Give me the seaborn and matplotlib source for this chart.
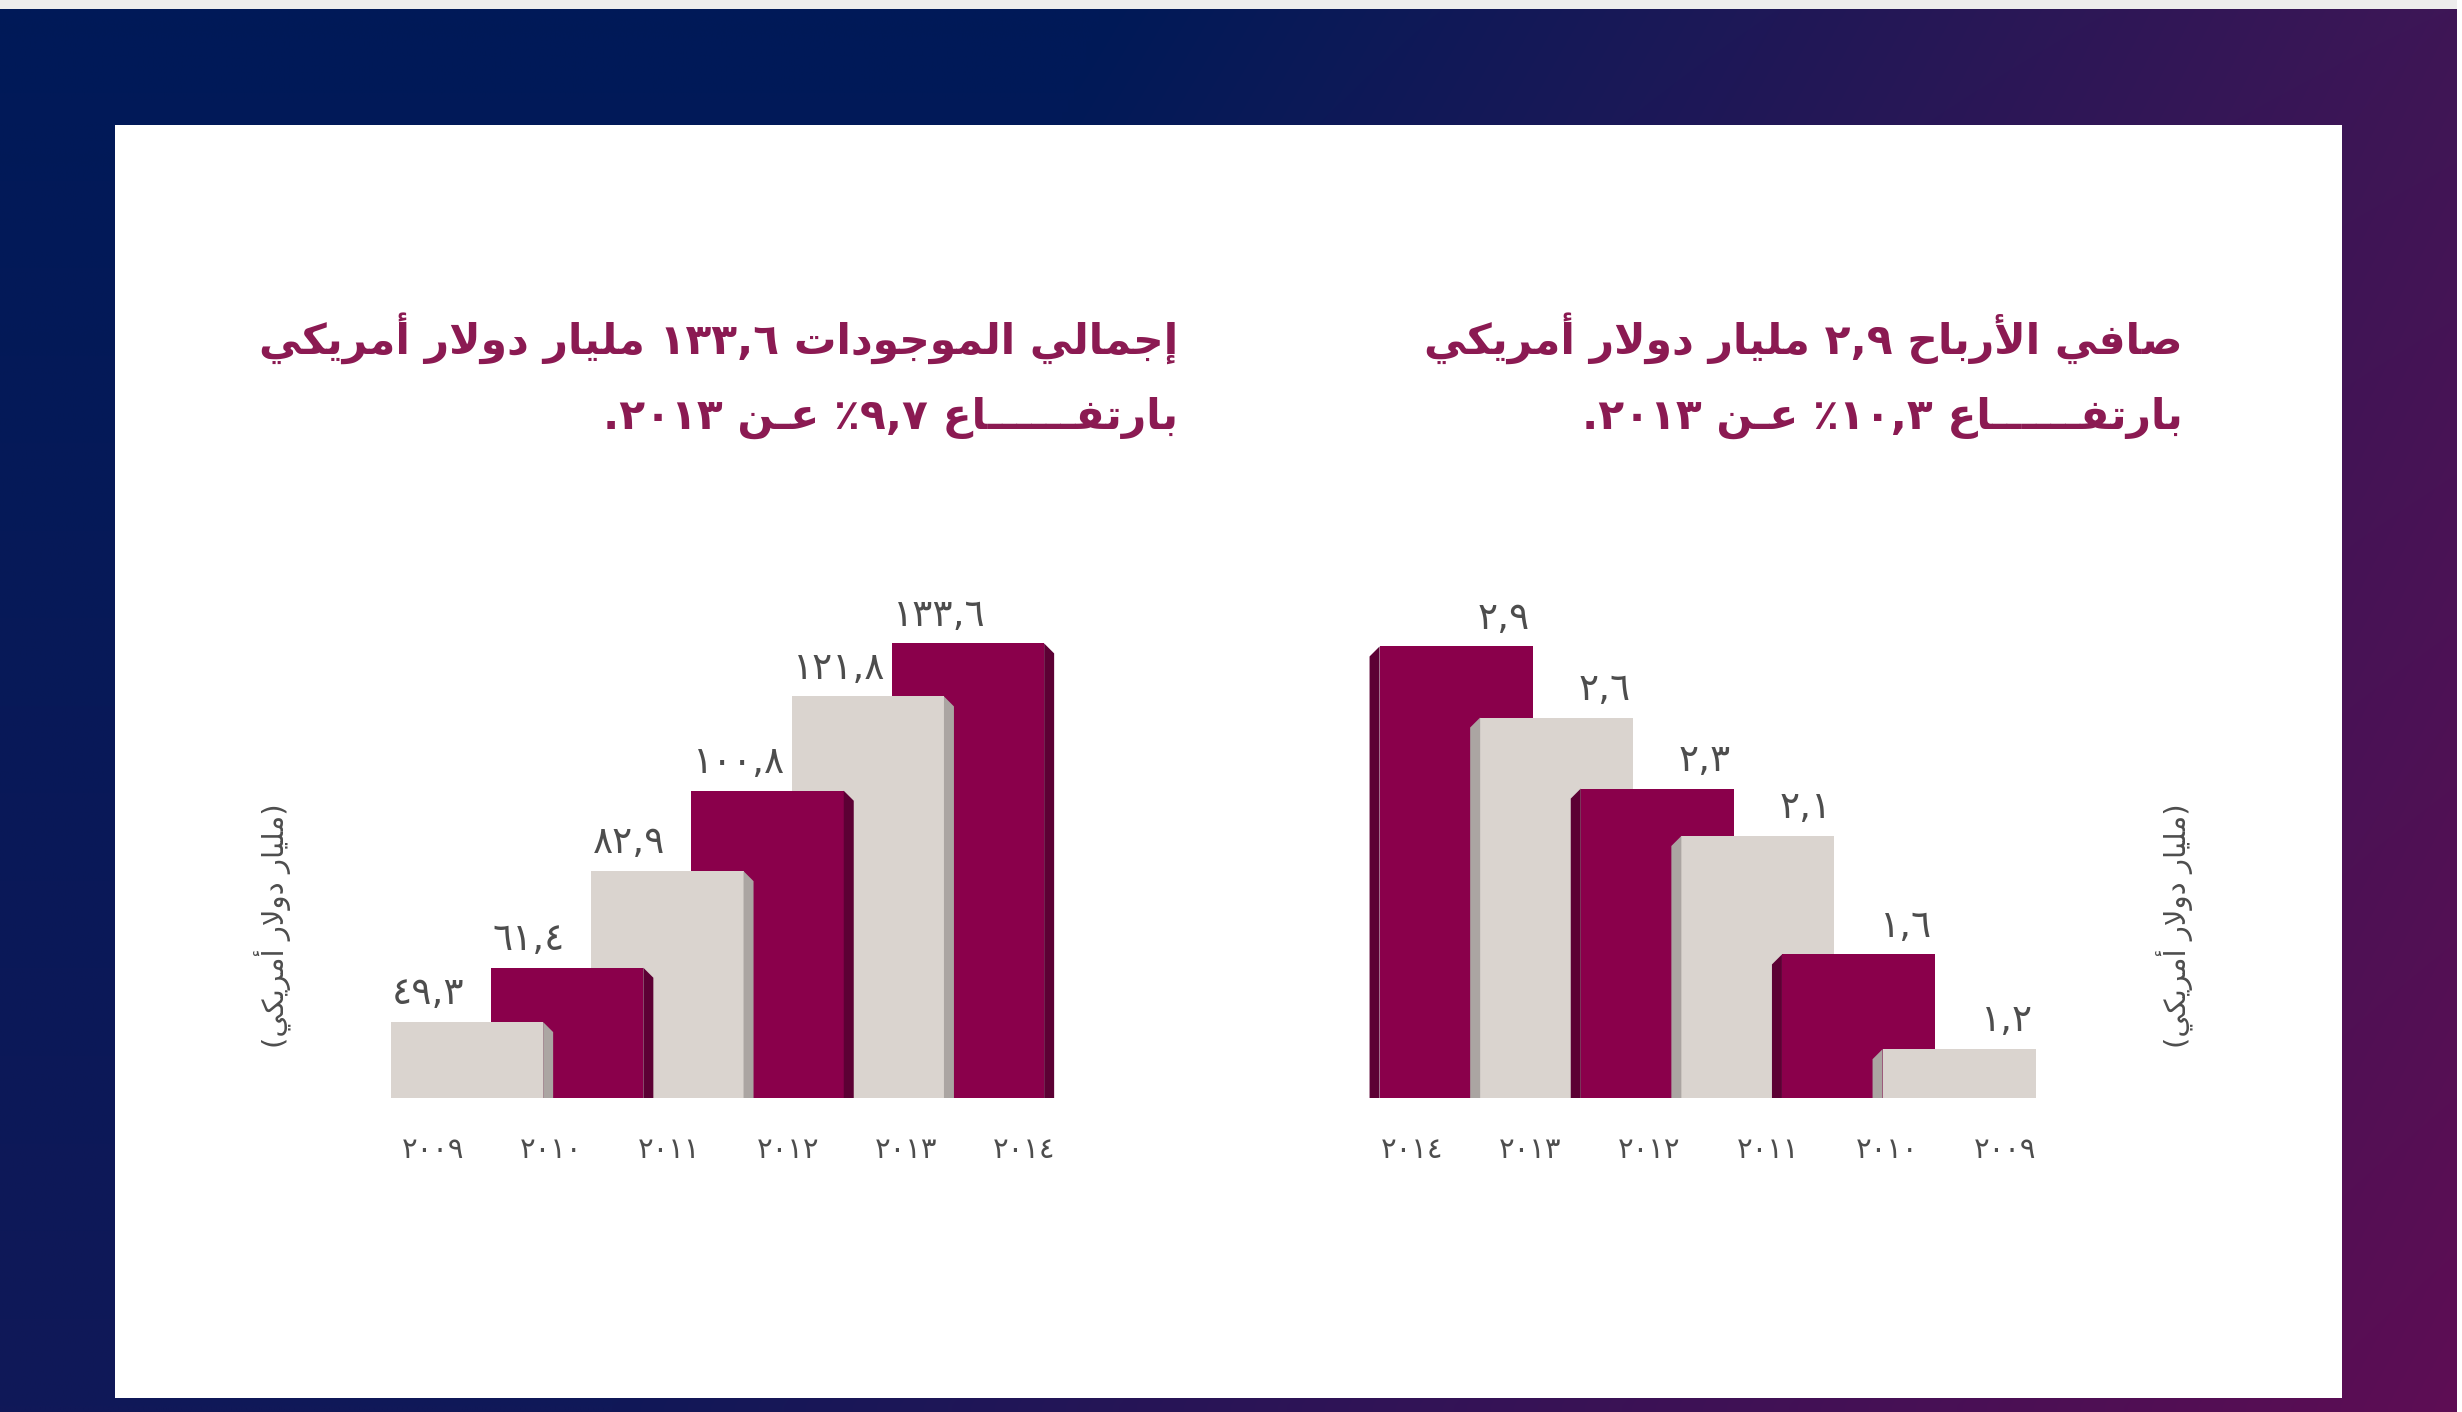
import re
import numpy as np
import matplotlib
matplotlib.use("Agg")
import matplotlib.pyplot as plt
from matplotlib.patches import Polygon, Rectangle
import seaborn as sns

# ---------------- data ----------------
years = ["2009", "2010", "2011", "2012", "2013", "2014"]
assets = [49.3, 61.4, 82.9, 100.8, 121.8, 133.6]
profits = [1.2, 1.6, 2.1, 2.3, 2.6, 2.9]
assets_title = ["إجمالي الموجودات ١٣٣,٦ مليار دولار أمريكي",
                "بارتفــــــاع ٩,٧٪ عـن ٢٠١٣."]
profits_title = ["صافي الأرباح ٢,٩ مليار دولار أمريكي",
                 "بارتفــــــاع ١٠,٣٪ عـن ٢٠١٣."]
unit_label = "(مليار دولار أمريكي)"

# ---------------- Arabic shaping / visual order ----------------
FORMS = {
    '\u0621': ('\uFE80', None, None, None),
    '\u0622': ('\uFE81', '\uFE82', None, None),
    '\u0623': ('\uFE83', '\uFE84', None, None),
    '\u0624': ('\uFE85', '\uFE86', None, None),
    '\u0625': ('\uFE87', '\uFE88', None, None),
    '\u0626': ('\uFE89', '\uFE8A', '\uFE8B', '\uFE8C'),
    '\u0627': ('\uFE8D', '\uFE8E', None, None),
    '\u0628': ('\uFE8F', '\uFE90', '\uFE91', '\uFE92'),
    '\u0629': ('\uFE93', '\uFE94', None, None),
    '\u062A': ('\uFE95', '\uFE96', '\uFE97', '\uFE98'),
    '\u062B': ('\uFE99', '\uFE9A', '\uFE9B', '\uFE9C'),
    '\u062C': ('\uFE9D', '\uFE9E', '\uFE9F', '\uFEA0'),
    '\u062D': ('\uFEA1', '\uFEA2', '\uFEA3', '\uFEA4'),
    '\u062E': ('\uFEA5', '\uFEA6', '\uFEA7', '\uFEA8'),
    '\u062F': ('\uFEA9', '\uFEAA', None, None),
    '\u0630': ('\uFEAB', '\uFEAC', None, None),
    '\u0631': ('\uFEAD', '\uFEAE', None, None),
    '\u0632': ('\uFEAF', '\uFEB0', None, None),
    '\u0633': ('\uFEB1', '\uFEB2', '\uFEB3', '\uFEB4'),
    '\u0634': ('\uFEB5', '\uFEB6', '\uFEB7', '\uFEB8'),
    '\u0635': ('\uFEB9', '\uFEBA', '\uFEBB', '\uFEBC'),
    '\u0636': ('\uFEBD', '\uFEBE', '\uFEBF', '\uFEC0'),
    '\u0637': ('\uFEC1', '\uFEC2', '\uFEC3', '\uFEC4'),
    '\u0638': ('\uFEC5', '\uFEC6', '\uFEC7', '\uFEC8'),
    '\u0639': ('\uFEC9', '\uFECA', '\uFECB', '\uFECC'),
    '\u063A': ('\uFECD', '\uFECE', '\uFECF', '\uFED0'),
    '\u0641': ('\uFED1', '\uFED2', '\uFED3', '\uFED4'),
    '\u0642': ('\uFED5', '\uFED6', '\uFED7', '\uFED8'),
    '\u0643': ('\uFED9', '\uFEDA', '\uFEDB', '\uFEDC'),
    '\u0644': ('\uFEDD', '\uFEDE', '\uFEDF', '\uFEE0'),
    '\u0645': ('\uFEE1', '\uFEE2', '\uFEE3', '\uFEE4'),
    '\u0646': ('\uFEE5', '\uFEE6', '\uFEE7', '\uFEE8'),
    '\u0647': ('\uFEE9', '\uFEEA', '\uFEEB', '\uFEEC'),
    '\u0648': ('\uFEED', '\uFEEE', None, None),
    '\u0649': ('\uFEEF', '\uFEF0', None, None),
    '\u064A': ('\uFEF1', '\uFEF2', '\uFEF3', '\uFEF4'),
}
LAM_ALEF = {'\u0622': ('\uFEF5', '\uFEF6'), '\u0623': ('\uFEF7', '\uFEF8'),
            '\u0625': ('\uFEF9', '\uFEFA'), '\u0627': ('\uFEFB', '\uFEFC')}


def _jt(c):
    if c == '\u0640':
        return 'D'
    f = FORMS.get(c)
    if f is None or f[1] is None:
        return 'U'
    return 'D' if f[2] else 'R'


def shape(s):
    out, n, i = [], len(s), 0
    while i < n:
        c = s[i]
        jp = i > 0 and _jt(s[i - 1]) == 'D'
        if c == '\u0644' and i + 1 < n and s[i + 1] in LAM_ALEF:
            iso, fin = LAM_ALEF[s[i + 1]]
            out.append(fin if jp else iso)
            i += 2
            continue
        if c not in FORMS:
            out.append(c)
            i += 1
            continue
        t = _jt(c)
        nxt = s[i + 1] if i + 1 < n else None
        jn = t == 'D' and nxt is not None and _jt(nxt) in ('D', 'R')
        jp = jp and t in ('D', 'R')
        iso, fin, ini, med = FORMS[c]
        out.append(med if (jp and jn) else fin if jp else ini if jn else iso)
        i += 1
    return ''.join(out)


NUM = re.compile(r'[0-9\u0660-\u0669]+(?:[.,\u066B][0-9\u0660-\u0669]+)*')
MIRROR = {'(': ')', ')': '('}


def visual(s):
    s = shape(s)
    parts, pos = [], 0
    for m in NUM.finditer(s):
        if m.start() > pos:
            parts.append(('t', s[pos:m.start()]))
        parts.append(('n', m.group()))
        pos = m.end()
    if pos < len(s):
        parts.append(('t', s[pos:]))
    res = []
    for kind, txt in reversed(parts):
        res.append(txt if kind == 'n' else ''.join(MIRROR.get(ch, ch) for ch in reversed(txt)))
    return ''.join(res)


AR_DIG = str.maketrans("0123456789", "٠١٢٣٤٥٦٧٨٩")


def ar_num(v):
    return f"{v:.1f}".replace('.', ',').translate(AR_DIG)


# ---------------- style ----------------
sns.set_theme(style="white")
plt.rcParams['font.family'] = ['DejaVu Sans']

MAROON, MAROON_SH = '#8a004b', '#5c0034'
GRAY, GRAY_SH = '#dad4cf', '#aba5a2'
TITLE_C = '#8b1a52'
TEXT_C = '#4d4d4d'

W, H = 2462, 1412
fig = plt.figure(figsize=(W / 100, H / 100), dpi=100)

# background gradient frame
bg = fig.add_axes([0, 0, 1, 1], zorder=-10)
nx, ny = 400, 120
xx = np.linspace(0, 1, nx)[None, :]
yy = np.linspace(0, 1, ny)[:, None]
start = 0.45 - 0.2 * yy
tt = np.clip((xx - start) / (1 - start), 0, 1)[..., None]
navy_t, navy_b = np.array([0, 26, 88]), np.array([16, 24, 88])
pur_t, pur_b = np.array([62, 22, 86]), np.array([94, 13, 84])
yk = yy[..., None]
c_left = navy_t * (1 - yk) + navy_b * yk
c_right = pur_t * (1 - yk) + pur_b * yk
img = (c_left * (1 - tt) + c_right * tt) / 255.0
bg.imshow(img, extent=(0, W, H, 0), aspect='auto', interpolation='bilinear')
bg.set_xlim(0, W)
bg.set_ylim(H, 0)
bg.axis('off')
bg.add_patch(Rectangle((0, 0), W, 9, color='#ededed', lw=0))
bg.add_patch(Rectangle((2457, 0), 5, H, color='#ffffff', lw=0))
bg.add_patch(Rectangle((115, 125), 2342 - 115, 1398 - 125, color='#ffffff', lw=0))

colors = {y: (GRAY if i % 2 == 0 else MAROON) for i, y in enumerate(years)}
shadow_c = {y: (GRAY_SH if i % 2 == 0 else MAROON_SH) for i, y in enumerate(years)}

XLIM = (-0.9, 5.9)
AX_TOP, AX_BASE = 560, 1098
AX_H = AX_BASE - AX_TOP


def draw_chart(left_px, spacing_px, values, order, ybottom, px_per_unit, shadow_side, label_side):
    width_px = (XLIM[1] - XLIM[0]) * spacing_px
    ax = fig.add_axes([left_px / W, 1 - AX_BASE / H, width_px / W, AX_H / H])
    sns.barplot(x=years, y=values, hue=years, order=order, hue_order=years,
                palette=colors, dodge=False, width=1.62, saturation=1,
                errorbar=None, legend=False, linewidth=0, ax=ax)
    ax.set_xlim(*XLIM)
    ytop = ybottom + AX_H / px_per_unit
    ax.set_ylim(ybottom, ytop)
    sw = 10 / spacing_px
    bh = 10 / px_per_unit
    val_of = dict(zip(years, values))
    for p in list(ax.patches):
        cx = p.get_x() + p.get_width() / 2
        yr = order[int(round(cx))]
        i = years.index(yr)
        z = 10 - i
        x0, w, h = p.get_x(), p.get_width(), p.get_height()
        p.set_zorder(z)
        if shadow_side == 'right':
            p.set_width(w - sw)
            pts = [(x0 + w - sw, 0), (x0 + w - sw, h), (x0 + w, h - bh), (x0 + w, 0)]
        else:
            p.set_x(x0 + sw)
            p.set_width(w - sw)
            pts = [(x0, 0), (x0, h - bh), (x0 + sw, h), (x0 + sw, 0)]
        ax.add_patch(Polygon(pts, closed=True, facecolor=shadow_c[yr], lw=0, zorder=z + 0.5))
        if label_side == 'left':
            ax.annotate(ar_num(val_of[yr]), (x0, h), xytext=(1, 7), textcoords='offset points',
                        ha='left', va='bottom', fontsize=27, color=TEXT_C, zorder=20)
        else:
            ax.annotate(ar_num(val_of[yr]), (x0 + w, h), xytext=(-2, 7), textcoords='offset points',
                        ha='right', va='bottom', fontsize=27, color=TEXT_C, zorder=20)
    ticks = np.arange(len(order)) * 1.18 - 0.39
    ax.set_xticks(ticks)
    ax.set_xticklabels([y.translate(AR_DIG) for y in order], fontsize=21, color=TEXT_C)
    ax.tick_params(axis='x', length=0, pad=27)
    ax.set_yticks([])
    ax.set_xlabel('')
    ax.set_ylabel('')
    for s in ax.spines.values():
        s.set_visible(False)
    ax.patch.set_alpha(0)
    return ax


# left: total assets
draw_chart(381.8, 100.2, assets, years, 32.4, 4.492, 'right', 'left')
# right: net profit (years descending from left to right)
draw_chart(1360.5, 100.6, profits, years[::-1], 0.994, 236.9, 'left', 'right')

# titles
for (lines, xr) in ((assets_title, 1178), (profits_title, 2183)):
    for k, line in enumerate(lines):
        fig.text(xr / W, 1 - (338 + 80 * k) / H, visual(line), ha='right', va='center',
                 fontsize=30.5, fontweight='bold', color=TITLE_C)

# unit labels (rotated)
for xc in (273, 2175):
    fig.text(xc / W, 1 - 926 / H, visual(unit_label), rotation=90, ha='center', va='center',
             fontsize=21, color=TEXT_C)

fig.savefig("out.png", dpi=100)
